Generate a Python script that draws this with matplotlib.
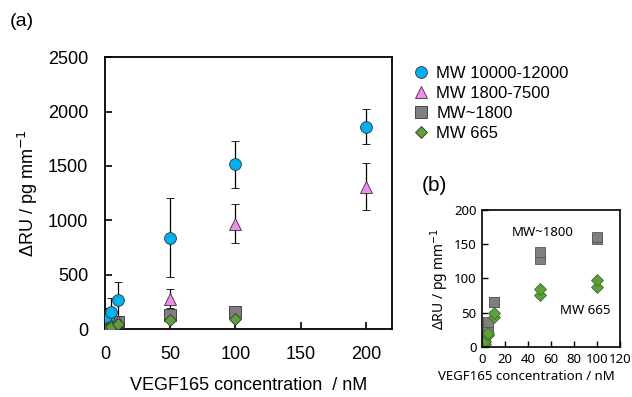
import numpy as np
import matplotlib.pyplot as plt

plt.rcParams['font.family'] = ['Liberation Sans', 'DejaVu Sans']

# main panel (a): mean values with error bars
conc = [0.5, 1, 2, 5, 10, 50, 100, 200]
mw_big = [20, 50, 90, 155, 265, 840, 1515, 1860]
mw_big_err = [40, 80, 100, 135, 165, 365, 215, 160]
mw_mid = [5, 10, 15, 40, 75, 280, 970, 1310]
mw_mid_err = [10, 15, 20, 30, 45, 90, 180, 215]
conc_s = [0.5, 1, 2, 5, 10, 50, 100]
mw_1800 = [2, 5, 12, 32, 65, 133, 160]
mw_665 = [1, 3, 6, 19, 47, 80, 93]

# inset (b): individual points
conc_b = [0.5, 0.5, 1, 1, 2, 2, 5, 5, 10, 10, 50, 50, 100, 100]
b_1800 = [1, 3, 4, 6, 10, 15, 28, 36, 65, 65, 128, 138, 158, 161]
b_665 = [0, 1, 2, 4, 5, 8, 18, 20, 44, 50, 76, 84, 88, 98]

c_blue = '#00B0F0'
c_pink = '#F08CF0'
c_gray = '#7F7F7F'
c_green = '#5E9E3C'
edge = '#333333'

fig = plt.figure(figsize=(6.32, 3.97), dpi=100)
ax = fig.add_axes([0.166, 0.171, 0.454, 0.685])

e1 = ax.errorbar(conc, mw_big, yerr=mw_big_err, fmt='o', color=c_blue, mec=edge, mew=0.6,
                 ms=8.5, ecolor='black', elinewidth=0.9, capsize=3, capthick=0.9, zorder=3)
e2 = ax.errorbar(conc, mw_mid, yerr=mw_mid_err, fmt='^', color=c_pink, mec=edge, mew=0.6,
                 ms=9, ecolor='black', elinewidth=0.9, capsize=3, capthick=0.9, zorder=3)
p3, = ax.plot(conc_s, mw_1800, 's', color=c_gray, mec=edge, mew=0.6, ms=8, zorder=3)
p4, = ax.plot(conc_s, mw_665, 'D', color=c_green, mec=edge, mew=0.6, ms=6.5, zorder=4)

ax.set_xlim(0, 220)
ax.set_ylim(0, 2500)
ax.set_xticks([0, 50, 100, 150, 200])
ax.set_yticks([0, 500, 1000, 1500, 2000, 2500])
ax.tick_params(direction='in', labelsize=13, width=1.2, length=5)
ax.tick_params(axis='y', pad=12)
ax.tick_params(axis='x', pad=12)
for s in ax.spines.values():
    s.set_linewidth(1.3)
ax.set_xlabel('VEGF165 concentration  / nM', fontsize=13, labelpad=10)
ax.set_ylabel('ΔRU / pg mm$^{-1}$', fontsize=13, labelpad=6)

fig.legend([e1[0], e2[0], p3, p4],
           ['MW 10000-12000', 'MW 1800-7500', 'MW~1800', 'MW 665'],
           loc='upper left', bbox_to_anchor=(0.643, 0.85), frameon=False,
           fontsize=12, handletextpad=0.4, labelspacing=0.3, handlelength=1.0,
           borderaxespad=0)

fig.text(0.016, 0.935, '(a)', fontsize=14)

# inset (b)
ax2 = fig.add_axes([0.763, 0.126, 0.218, 0.345])
ax2.plot(conc_b, b_1800, 's', color=c_gray, mec='#555555', mew=0.6, ms=7)
ax2.plot(conc_b, b_665, 'D', color=c_green, mec='#3E6E2A', mew=0.6, ms=6)
ax2.set_xlim(0, 120)
ax2.set_ylim(0, 200)
ax2.set_xticks(np.arange(0, 121, 20))
ax2.set_yticks([0, 50, 100, 150, 200])
ax2.tick_params(direction='in', length=4, width=1, labelsize=9.5, pad=4)
for s in ax2.spines.values():
    s.set_linewidth(1.2)
for t in ax2.get_xticklabels() + ax2.get_yticklabels():
    t.set_family('Noto Sans')
ax2.set_xlabel('VEGF165 concentration / nM', fontsize=9.5, family='Noto Sans', labelpad=2)
ax2.xaxis.set_label_coords(0.32, -0.17)
ax2.set_ylabel('ΔRU / pg mm$^{-1}$', fontsize=10, family='Noto Sans', labelpad=2)
ax2.text(0.44, 0.81, 'MW~1800', transform=ax2.transAxes, ha='center', fontsize=9.5, family='Noto Sans')
ax2.text(0.75, 0.24, 'MW 665', transform=ax2.transAxes, ha='center', fontsize=9.5, family='Noto Sans')
fig.text(0.668, 0.52, '(b)', fontsize=15)

fig.savefig('out.png', dpi=100)
